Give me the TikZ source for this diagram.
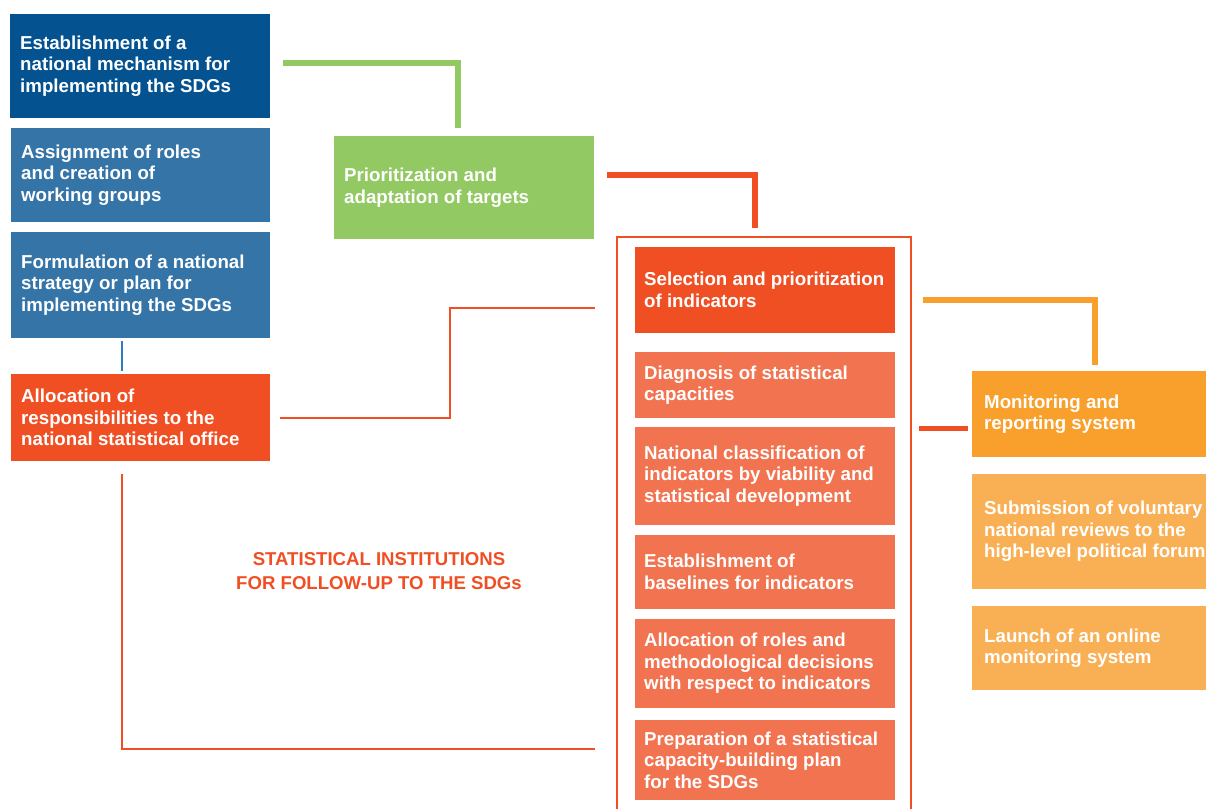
\documentclass[tikz,border=0pt]{standalone}
\usepackage{fontspec}
\setmainfont{Liberation Sans}
\usetikzlibrary{calc}
\definecolor{dblue}{HTML}{045390}
\definecolor{mblue}{HTML}{3474A7}
\definecolor{lblue}{HTML}{2F7DC0}
\definecolor{redA}{HTML}{F04F23}
\definecolor{salmon}{HTML}{F27350}
\definecolor{greenA}{HTML}{92C962}
\definecolor{orangeA}{HTML}{F8A02B}
\definecolor{orangeB}{HTML}{F9B054}
\newcommand\sdgbox[8][10]{%
  \node[boxbase, fill=#7, minimum width=#5pt, minimum height=#6pt] (#2) at (#3,#4) {};
  \node[boxtext] (#2-t) at ([xshift=#1pt]#2.west) {#8};}
\begin{document}
\begin{tikzpicture}[x=1pt,y=-1pt,
  boxbase/.style={draw=none, inner sep=0pt, outer sep=0pt, anchor=north west},
  boxtext/.style={text=white, font=\bfseries\fontsize{18.7}{21.5}\selectfont, align=left, inner sep=0pt, anchor=west},
  conn/.style={line width=6pt},
  thinconn/.style={line width=2pt}]
\useasboundingbox[fill=white] (0,0) rectangle (1206,808);

% left column
\sdgbox{A}{10}{14}{260}{104}{dblue}{Establishment of a\\national mechanism for\\implementing the SDGs}
\sdgbox{B}{11}{128}{259}{94}{mblue}{Assignment of roles\\and creation of\\working groups}
\sdgbox{C}{11}{232}{259}{106}{mblue}{Formulation of a national\\strategy or plan for\\implementing the SDGs}
\sdgbox{D}{11}{374}{259}{87}{redA}{Allocation of\\responsibilities to the\\national statistical office}

% green box
\sdgbox{E}{334}{136}{260}{103}{greenA}{Prioritization and\\adaptation of targets}

% frame
\node[draw=redA, line width=2pt, inner sep=0pt, minimum width=294pt, minimum height=620pt, anchor=north west] (frame) at (616,236) {};

% middle column
\sdgbox[9]{F}{635}{247}{260}{86}{redA}{Selection and prioritization\\of indicators}
\sdgbox[9]{G}{635}{352}{260}{66}{salmon}{Diagnosis of statistical\\capacities}
\sdgbox[9]{H}{635}{427}{260}{98}{salmon}{National classification of\\indicators by viability and\\statistical development}
\sdgbox[9]{I}{635}{535}{260}{74}{salmon}{Establishment of\\baselines for indicators}
\sdgbox[9]{J}{635}{619}{260}{89}{salmon}{Allocation of roles and\\methodological decisions\\with respect to indicators}
\sdgbox[9]{K}{635}{720}{260}{80}{salmon}{Preparation of a statistical\\capacity-building plan\\for the SDGs}

% right column
\sdgbox[12]{L}{972}{371}{240}{86}{orangeA}{Monitoring and\\reporting system}
\sdgbox[12]{M}{972}{474}{240}{115}{orangeB}{Submission of voluntary\\national reviews to the\\high-level political forum}
\sdgbox[12]{N}{972}{606}{240}{84}{orangeB}{Launch of an online\\monitoring system}

% title
\node[text=redA, font=\bfseries\fontsize{18.6}{24}\selectfont, align=center] (title) at (379,571) {STATISTICAL INSTITUTIONS\\FOR FOLLOW-UP TO THE SDGs};

% connectors
\coordinate (g1) at (283,63);
\coordinate (g2) at (458,128);
\draw[conn, greenA] (g1) -| (g2);
\coordinate (r1) at (607,175);
\coordinate (r2) at (755,228);
\draw[conn, redA] (r1) -| (r2);
\coordinate (o1) at (923,300);
\coordinate (o2) at (1095,365);
\draw[conn, orangeA] (o1) -| (o2);
\coordinate (s1) at (919,428);
\coordinate (s2) at (968,428);
\draw[line width=5pt, redA] (s1) -- (s2);
\coordinate (b1) at (122,341);
\coordinate (b2) at (122,371);
\draw[thinconn, lblue] (b1) -- (b2);
\coordinate (d1) at (280,418);
\coordinate (d2) at (450,308);
\coordinate (d3) at (595,308);
\draw[thinconn, redA] (d1) -| (d2) -- (d3);
\coordinate (e1) at (122,474);
\coordinate (e2) at (595,749);
\draw[thinconn, redA] (e1) |- (e2);
\end{tikzpicture}
\end{document}
